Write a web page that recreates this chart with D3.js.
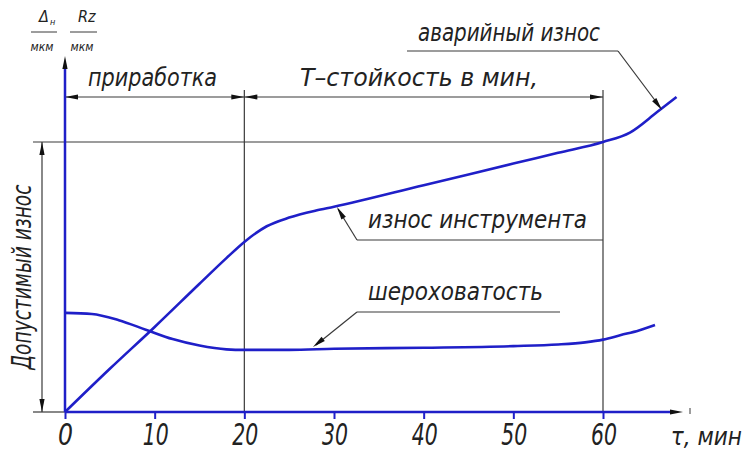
<!DOCTYPE html>
<html>
<head>
<meta charset="utf-8">
<script src="https://cdn.jsdelivr.net/npm/d3@7"></script>
<style>
  body { margin: 0; background: #fff; }
  text { font-family: "Liberation Sans Narrow", "DejaVu Sans Condensed", sans-serif; font-style: italic; fill: #222; }
</style>
</head>
<body>
<div id="chart"></div>
<script>
// time, minutes
const minuteTicks = [0, 10, 20, 30, 40, 50, 60]

// tool wear curve (мкм, relative: allowable wear = 100)
const wearMin = [0, 5, 10, 15, 18, 20, 22.5, 25, 28, 30, 40, 50, 55, 60, 63, 66, 68.2]
const wearVal = [0, 16, 31.5, 47.5, 57, 63, 68.8, 72, 74.6, 76, 84, 92, 96, 100, 103.5, 111, 116.7]

// roughness curve
const roughMin = [0, 3, 6, 9, 12, 15, 18, 20, 25, 30, 40, 50, 55, 58, 60, 62, 64, 65.8]
const roughVal = [36.7, 36.3, 34, 30.5, 27, 24.6, 23.2, 23, 23, 23.4, 23.8, 24.4, 25, 25.8, 26.8, 28.5, 30.2, 32.2]

// stage boundaries and limits
const runInEnd = 20
const lifeEnd = 60
const allowedWear = 100

const width = 750
const height = 452
const blue = '#1f1fc8'
const ink = '#3a3a3a'

const svg = d3
  .select('#chart')
  .append('svg')
  .attr('width', width)
  .attr('height', height)

const xScale = d3.scaleLinear().domain([0, 60]).range([65, 603])
const yScale = d3.scaleLinear().domain([0, 100]).range([412, 142])

function seg(x1, y1, x2, y2, color, w) {
  svg.append('line')
    .attr('x1', x1).attr('y1', y1).attr('x2', x2).attr('y2', y2)
    .attr('stroke', color || ink)
    .attr('stroke-width', w || 1.2)
}

// filled arrowhead, tip at (tx, ty), pointing along (dx, dy)
function arrow(tx, ty, dx, dy, len, half) {
  len = len || 13
  half = half || 2.6
  const n = Math.hypot(dx, dy)
  const ux = dx / n, uy = dy / n
  const bx = tx - ux * len, by = ty - uy * len
  svg.append('path')
    .attr('d', `M${tx},${ty}L${bx - uy * half},${by + ux * half}L${bx + uy * half},${by - ux * half}Z`)
    .attr('fill', '#111')
}

function label(str, x, y, size, len) {
  const t = svg.append('text')
    .attr('x', x).attr('y', y)
    .attr('font-size', size + 'px')
    .text(str)
  if (len) t.attr('textLength', len).attr('lengthAdjust', 'spacingAndGlyphs')
  return t
}

// --- extension / reference lines ---
const y0 = yScale(0)
const yAllow = yScale(allowedWear)
const dimY = 97

seg(33, y0, xScale(0), y0)
seg(33, yAllow, xScale(lifeEnd), yAllow)
seg(xScale(runInEnd), 90, xScale(runInEnd), y0)
seg(xScale(lifeEnd), 90, xScale(lifeEnd), y0)

// vertical dimension: allowable wear
seg(42, yAllow, 42, y0)
arrow(42, yAllow, 0, -1)
arrow(42, y0, 0, 1)
svg.append('text')
  .attr('transform', `translate(31,${(yAllow + y0) / 2}) rotate(-90)`)
  .attr('text-anchor', 'middle')
  .attr('font-size', '27px')
  .attr('textLength', 185)
  .attr('lengthAdjust', 'spacingAndGlyphs')
  .text('Допустимый износ')

// horizontal dimension: run-in and tool life
seg(xScale(0), dimY, xScale(lifeEnd), dimY)
arrow(xScale(0), dimY, -1, 0)
arrow(xScale(runInEnd), dimY, 1, 0)
arrow(xScale(runInEnd), dimY, -1, 0)
arrow(xScale(lifeEnd), dimY, 1, 0)
label('приработка', 88, 86, 25, 129)
label('T–стойкость в мин,', 300, 86, 25, 238)

// --- axes ---
seg(xScale(0), y0, 670, y0, blue, 2.5)
arrow(683, y0, 1, 0, 13, 2.6)
seg(690, y0 - 4, 690, y0 + 2, ink, 1)
seg(xScale(0), y0, xScale(0), 68, blue, 2.5)
arrow(xScale(0), 56, 0, -1, 13, 2.6)

const xAxis = d3.axisBottom(xScale).tickValues(minuteTicks).tickSize(7).tickFormat('')
svg.append('g')
  .attr('transform', `translate(0,${y0})`)
  .call(xAxis)
  .call(g => g.select('.domain').remove())
  .call(g => g.selectAll('line').attr('stroke', blue).attr('stroke-width', 2))

svg.selectAll('.tick-label')
  .data(minuteTicks)
  .enter()
  .append('text')
  .attr('class', 'tick-label')
  .attr('x', d => xScale(d) - (d < 10 ? 7 : 12))
  .attr('y', 445)
  .attr('font-size', '30px')
  .attr('textLength', d => (d < 10 ? 15 : 26))
  .attr('lengthAdjust', 'spacingAndGlyphs')
  .text(d => d)

svg.append('text')
  .attr('x', 742)
  .attr('y', 445)
  .attr('text-anchor', 'end')
  .attr('font-size', '24px')
  .text('τ, мин')

// --- units, top left ---
label('Δ', 39, 22, 16)
label('н', 50, 25, 9)
seg(31, 32, 57, 32, ink, 1)
svg.append('text').attr('x', 42).attr('y', 51).attr('text-anchor', 'middle').attr('font-size', '12px').text('мкм')
label('Rz', 78, 22, 16)
seg(70, 32, 97, 32, ink, 1)
svg.append('text').attr('x', 82).attr('y', 51).attr('text-anchor', 'middle').attr('font-size', '12px').text('мкм')

// --- curves ---
const line = d3.line()
  .x(d => xScale(d[0]))
  .y(d => yScale(d[1]))
  .curve(d3.curveMonotoneX)

svg.append('path')
  .datum(d3.zip(wearMin, wearVal))
  .attr('d', line)
  .attr('fill', 'none')
  .attr('stroke', blue)
  .attr('stroke-width', 2.6)

svg.append('path')
  .datum(d3.zip(roughMin, roughVal))
  .attr('d', line)
  .attr('fill', 'none')
  .attr('stroke', blue)
  .attr('stroke-width', 2.6)

// --- leaders ---
// tool wear
seg(357, 240, xScale(lifeEnd), 240)
seg(357, 240, 338, 209)
arrow(337, 207, -19, -32)
label('износ инструмента', 368, 228, 25, 219)

// roughness
seg(357, 312, 560, 312)
seg(357, 312, 316, 345)
arrow(313, 347, -44, 35)
label('шероховатость', 368, 300, 25, 175)

// emergency wear
seg(407, 51, 618, 51)
seg(618, 51, 660, 107)
arrow(662, 110, 44, 59)
label('аварийный износ', 418, 41, 25, 182)
</script>
</body>
</html>
